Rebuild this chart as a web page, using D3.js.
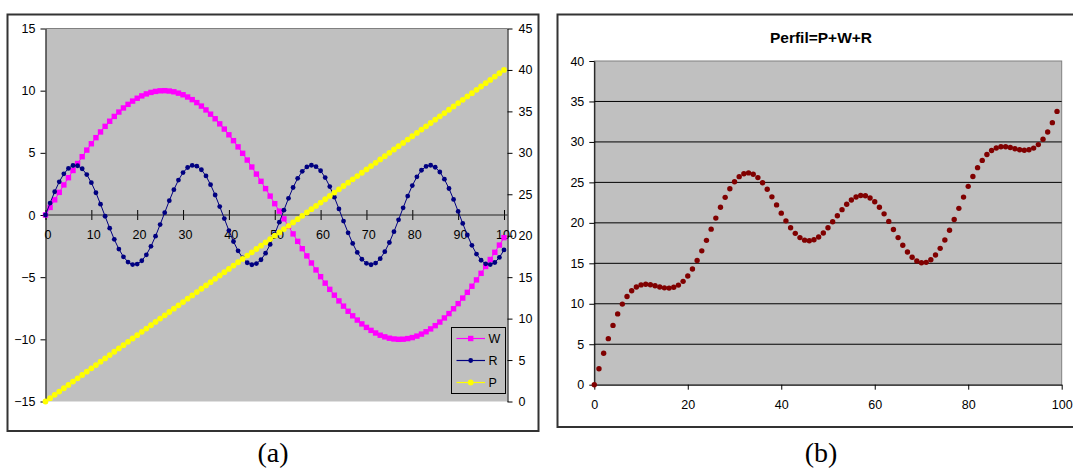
<!DOCTYPE html>
<html>
<head>
<meta charset="utf-8">
<script src="https://cdn.jsdelivr.net/npm/d3@7"></script>
<style>
  body { margin: 0; background: #fff; }
  svg { display: block; font-family: "Liberation Sans", Arial, sans-serif; }
</style>
</head>
<body>
<svg id="chart" width="1073" height="470"></svg>
<script>
// values, one per category 0..100
var W = [0, 0.61, 1.22, 1.82, 2.42, 3.00, 3.58, 4.14, 4.69, 5.22,
    5.73, 6.22, 6.68, 7.13, 7.54, 7.93, 8.28, 8.61, 8.90, 9.16,
    9.39, 9.58, 9.74, 9.86, 9.94, 9.99, 10.00, 9.97, 9.91, 9.80,
    9.67, 9.49, 9.28, 9.04, 8.76, 8.45, 8.11, 7.74, 7.33, 6.91,
    6.45, 5.98, 5.48, 4.96, 4.42, 3.86, 3.29, 2.71, 2.12, 1.52,
    0.91, 0.31, -0.31, -0.91, -1.52, -2.12, -2.71, -3.29, -3.86, -4.42,
    -4.96, -5.48, -5.98, -6.45, -6.91, -7.33, -7.74, -8.11, -8.45, -8.76,
    -9.04, -9.28, -9.49, -9.67, -9.80, -9.91, -9.97, -10.00, -9.99, -9.94,
    -9.86, -9.74, -9.58, -9.39, -9.16, -8.90, -8.61, -8.28, -7.93, -7.54,
    -7.13, -6.68, -6.22, -5.73, -5.22, -4.69, -4.14, -3.58, -3.00, -2.42,
    -1.82];

var R = [0, 0.96, 1.87, 2.67, 3.31, 3.75, 3.98, 3.96, 3.72, 3.25,
    2.60, 1.79, 0.87, -0.10, -1.06, -1.96, -2.74, -3.36, -3.79, -3.99,
    -3.95, -3.68, -3.20, -2.52, -1.70, -0.77, 0.19, 1.15, 2.04, 2.81,
    3.41, 3.82, 3.99, 3.93, 3.64, 3.14, 2.44, 1.61, 0.68, -0.29,
    -1.25, -2.13, -2.88, -3.46, -3.84, -4.00, -3.91, -3.60, -3.07, -2.37,
    -1.52, -0.58, 0.39, 1.34, 2.21, 2.95, 3.51, 3.87, 4.00, 3.89,
    3.56, 3.01, 2.29, 1.43, 0.49, -0.49, -1.43, -2.29, -3.01, -3.56,
    -3.89, -4.00, -3.87, -3.51, -2.95, -2.21, -1.34, -0.39, 0.58, 1.52,
    2.37, 3.07, 3.60, 3.91, 4.00, 3.84, 3.46, 2.88, 2.13, 1.25,
    0.29, -0.68, -1.61, -2.44, -3.14, -3.64, -3.93, -3.99, -3.82, -3.41,
    -2.81];

var P = [0, 0.4, 0.8, 1.2, 1.6, 2, 2.4, 2.8, 3.2, 3.6,
    4, 4.4, 4.8, 5.2, 5.6, 6, 6.4, 6.8, 7.2, 7.6,
    8, 8.4, 8.8, 9.2, 9.6, 10, 10.4, 10.8, 11.2, 11.6,
    12, 12.4, 12.8, 13.2, 13.6, 14, 14.4, 14.8, 15.2, 15.6,
    16, 16.4, 16.8, 17.2, 17.6, 18, 18.4, 18.8, 19.2, 19.6,
    20, 20.4, 20.8, 21.2, 21.6, 22, 22.4, 22.8, 23.2, 23.6,
    24, 24.4, 24.8, 25.2, 25.6, 26, 26.4, 26.8, 27.2, 27.6,
    28, 28.4, 28.8, 29.2, 29.6, 30, 30.4, 30.8, 31.2, 31.6,
    32, 32.4, 32.8, 33.2, 33.6, 34, 34.4, 34.8, 35.2, 35.6,
    36, 36.4, 36.8, 37.2, 37.6, 38, 38.4, 38.8, 39.2, 39.6,
    40];

// Perfil = P+W+R, categories 0..99
var perfil = [0, 1.97, 3.89, 5.69, 7.33, 8.75, 9.96, 10.90, 11.61, 12.07,
    12.33, 12.41, 12.35, 12.23, 12.08, 11.97, 11.94, 12.05, 12.31, 12.77,
    13.44, 14.30, 15.34, 16.54, 17.84, 19.22, 20.59, 21.92, 23.15, 24.21,
    25.08, 25.71, 26.07, 26.17, 26.00, 25.59, 24.95, 24.15, 23.21, 22.22,
    21.20, 20.25, 19.40, 18.70, 18.18, 17.86, 17.78, 17.91, 18.25, 18.75,
    19.39, 20.13, 20.88, 21.63, 22.29, 22.83, 23.20, 23.38, 23.34, 23.07,
    22.60, 21.93, 21.11, 20.18, 19.18, 18.18, 17.23, 16.40, 15.74, 15.28,
    15.07, 15.12, 15.44, 16.02, 16.85, 17.88, 19.09, 20.41, 21.79, 23.18,
    24.51, 25.73, 26.82, 27.72, 28.44, 28.94, 29.25, 29.40, 29.40, 29.31,
    29.16, 29.04, 28.97, 29.03, 29.24, 29.67, 30.33, 31.23, 32.38, 33.77];

var leftTicksA = [-15, -10, -5, 0, 5, 10, 15];
var rightTicksA = [0, 5, 10, 15, 20, 25, 30, 35, 40, 45];
var xTicksA = [0, 10, 20, 30, 40, 50, 60, 70, 80, 90, 100];
var yTicksB = [0, 5, 10, 15, 20, 25, 30, 35, 40];
var xTicksB = [0, 20, 40, 60, 80, 100];
var legendNames = ["W", "R", "P"];
var chartTitle = "Perfil=P+W+R";

var svg = d3.select("#chart");
var fontSize = "12.5px";

// ---------- (a) ----------
var a = { left: 45.5, top: 28.5, right: 507.5, bottom: 401.5 };
var xA = d3.scaleLinear().domain([0, 100]).range([a.left, 504]);
var yA = d3.scaleLinear().domain([-15, 15]).range([a.bottom, a.top]);
var y2A = d3.scaleLinear().domain([0, 45]).range([a.bottom, a.top]);

svg.append("rect")
    .attr("x", 7.5).attr("y", 14.5)
    .attr("width", 531).attr("height", 416.5)
    .attr("fill", "#fff").attr("stroke", "#333").attr("stroke-width", 2);

svg.append("rect")
    .attr("x", a.left).attr("y", a.top)
    .attr("width", a.right - a.left).attr("height", a.bottom - a.top)
    .attr("fill", "#c0c0c0");
svg.append("line")
    .attr("x1", a.left).attr("x2", a.right).attr("y1", a.top).attr("y2", a.top)
    .attr("stroke", "#808080");
svg.append("line")
    .attr("x1", a.left).attr("x2", a.right).attr("y1", a.bottom).attr("y2", a.bottom)
    .attr("stroke", "#e0e0e0");

var styleAxis = function(g) {
    g.selectAll("text").attr("fill", "#000").style("font-size", fontSize)
        .style("font-family", '"Liberation Sans", Arial, sans-serif');
    g.selectAll("line").attr("stroke", "#000");
    g.select(".domain").attr("stroke", "#000");
};

svg.append("g")
    .attr("transform", "translate(" + a.left + ",0)")
    .call(d3.axisLeft(yA).tickValues(leftTicksA).tickSize(5).tickPadding(5).tickSizeOuter(0))
    .call(styleAxis);

svg.append("g")
    .attr("transform", "translate(" + a.right + ",0)")
    .call(d3.axisRight(y2A).tickValues(rightTicksA).tickSize(5).tickPadding(6).tickSizeOuter(0))
    .call(styleAxis);

var xAxisA = svg.append("g")
    .attr("transform", "translate(0," + yA(0) + ")")
    .call(d3.axisBottom(xA).tickValues(xTicksA).tickSize(5).tickPadding(10).tickSizeOuter(0))
    .call(styleAxis);
xAxisA.select(".domain").remove();
xAxisA.selectAll(".tick line").attr("y1", -5);
xAxisA.selectAll(".tick text").attr("dx", "0.15em");
svg.append("line")
    .attr("x1", a.left).attr("x2", a.right).attr("y1", yA(0)).attr("y2", yA(0))
    .attr("stroke", "#222");

var lineW = d3.line().x(function(d, i) { return xA(i); }).y(function(d) { return yA(d); });
var lineP = d3.line().x(function(d, i) { return xA(i); }).y(function(d) { return y2A(d); });

svg.append("path").datum(W)
    .attr("fill", "none").attr("stroke", "#ff00ff").attr("stroke-width", 1)
    .attr("d", lineW);
svg.append("g").selectAll("rect").data(W).enter().append("rect")
    .attr("x", function(d, i) { return xA(i) - 2.7; })
    .attr("y", function(d) { return yA(d) - 2.7; })
    .attr("width", 5.4).attr("height", 5.4)
    .attr("fill", "#ff00ff");

svg.append("path").datum(R)
    .attr("fill", "none").attr("stroke", "#000080").attr("stroke-width", 1)
    .attr("d", lineW);
svg.append("g").selectAll("circle").data(R).enter().append("circle")
    .attr("cx", function(d, i) { return xA(i); })
    .attr("cy", function(d) { return yA(d); })
    .attr("r", 2.4)
    .attr("fill", "#000080");

svg.append("path").datum(P)
    .attr("fill", "none").attr("stroke", "#ffff00").attr("stroke-width", 1)
    .attr("d", lineP);
svg.append("g").selectAll("circle").data(P).enter().append("circle")
    .attr("cx", function(d, i) { return xA(i); })
    .attr("cy", function(d) { return y2A(d); })
    .attr("r", 2.9)
    .attr("fill", "#ffff00");

// legend
var legend = svg.append("g");
legend.append("rect")
    .attr("x", 451.5).attr("y", 327.5).attr("width", 54).attr("height", 66)
    .attr("fill", "#c0c0c0").attr("stroke", "#000");
var legendColors = ["#ff00ff", "#000080", "#ffff00"];
legendNames.forEach(function(name, i) {
    var ly = 338.5 + i * 22;
    legend.append("line")
        .attr("x1", 456.5).attr("x2", 485).attr("y1", ly).attr("y2", ly)
        .attr("stroke", legendColors[i]).attr("stroke-width", 1.2);
    if (i === 0) {
        legend.append("rect").attr("x", 468).attr("y", ly - 2.7)
            .attr("width", 5.4).attr("height", 5.4).attr("fill", legendColors[i]);
    } else {
        legend.append("circle").attr("cx", 470.7).attr("cy", ly)
            .attr("r", i === 1 ? 2.4 : 2.9).attr("fill", legendColors[i]);
    }
    legend.append("text")
        .attr("x", 488.5).attr("y", ly).attr("dy", "0.36em")
        .style("font-size", fontSize).text(name);
});

// ---------- (b) ----------
var b = { left: 594.3, top: 61, right: 1061.7, bottom: 384.7 };
var xB = d3.scaleLinear().domain([0, 100]).range([b.left, b.right]);
var yB = d3.scaleLinear().domain([0, 40]).range([b.bottom, b.top]);

svg.append("rect")
    .attr("x", 557.5).attr("y", 14.5)
    .attr("width", 540).attr("height", 412.5)
    .attr("fill", "#fff").attr("stroke", "#333").attr("stroke-width", 2);

svg.append("rect")
    .attr("x", b.left).attr("y", b.top)
    .attr("width", b.right - b.left).attr("height", b.bottom - b.top)
    .attr("fill", "#c0c0c0").attr("stroke", "#808080");

svg.append("g").selectAll("line")
    .data(yTicksB.filter(function(v) { return v > 0 && v < 40; }))
    .enter().append("line")
    .attr("x1", b.left).attr("x2", b.right)
    .attr("y1", function(d) { return yB(d); })
    .attr("y2", function(d) { return yB(d); })
    .attr("stroke", "#000");

svg.append("g")
    .attr("transform", "translate(" + b.left + ",0)")
    .call(d3.axisLeft(yB).tickValues(yTicksB).tickSize(5).tickPadding(5).tickSizeOuter(0))
    .call(styleAxis);

svg.append("g")
    .attr("transform", "translate(0," + b.bottom + ")")
    .call(d3.axisBottom(xB).tickValues(xTicksB).tickSize(5).tickPadding(10).tickSizeOuter(0))
    .call(styleAxis);

svg.append("g").selectAll("circle").data(perfil).enter().append("circle")
    .attr("cx", function(d, i) { return xB(i); })
    .attr("cy", function(d) { return yB(d); })
    .attr("r", 2.7)
    .attr("fill", "#800000");

svg.append("text")
    .attr("x", 821).attr("y", 42.5)
    .attr("text-anchor", "middle")
    .style("font-size", "15.5px").style("font-weight", "bold")
    .text(chartTitle);

// captions
svg.append("text")
    .attr("x", 273).attr("y", 462).attr("text-anchor", "middle")
    .style("font-family", '"Liberation Serif", "Times New Roman", serif')
    .style("font-size", "28px").text("(a)");
svg.append("text")
    .attr("x", 821).attr("y", 462).attr("text-anchor", "middle")
    .style("font-family", '"Liberation Serif", "Times New Roman", serif')
    .style("font-size", "28px").text("(b)");
</script>
</body>
</html>
